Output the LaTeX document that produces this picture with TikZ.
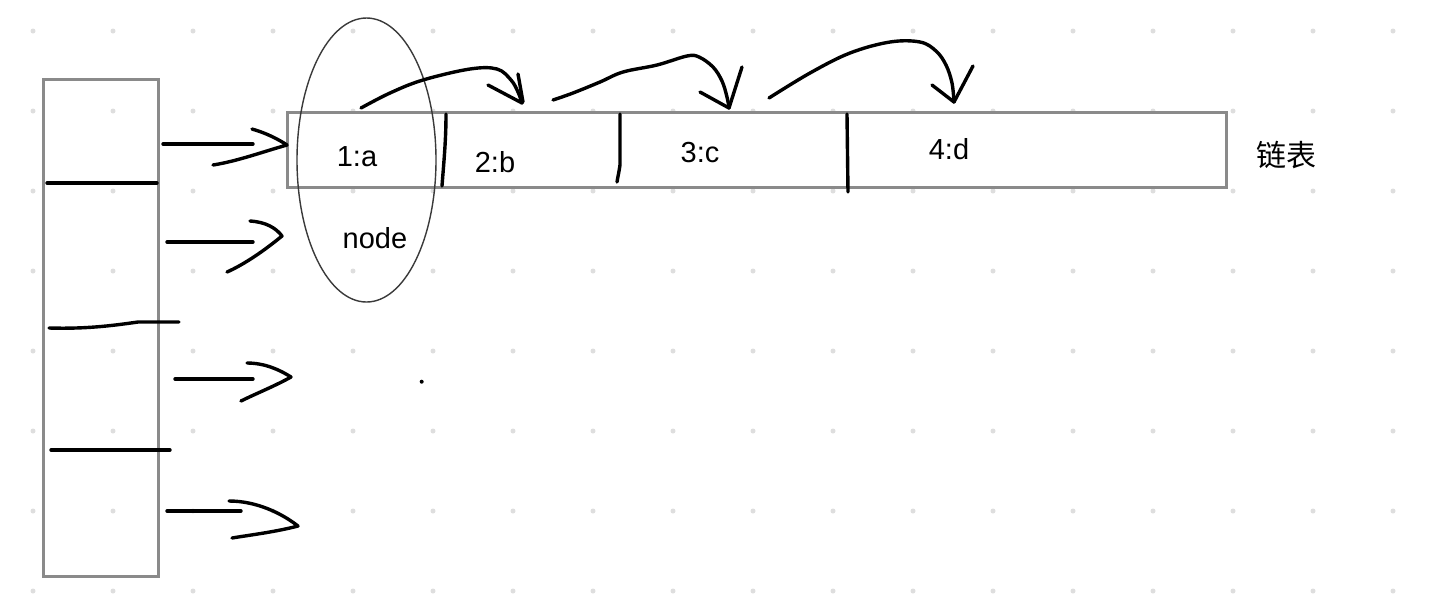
\documentclass[tikz,border=0pt]{standalone}
\usepackage{fontspec}
\setmainfont{Liberation Sans}
\newfontfamily\cjk{Noto Sans CJK SC}
\usetikzlibrary{shapes.geometric}
\definecolor{boxgray}{HTML}{8A8A8A}
\definecolor{dotgray}{HTML}{DEDEDE}
\definecolor{ellgray}{HTML}{3A3A3A}
\tikzset{
  boxline/.style={draw=boxgray, line width=1.5pt},
  pen/.style={draw=black, line width=1.7pt, line cap=round, line join=round},
  lbl/.style={inner sep=0pt, font=\fontsize{14.5}{17}\selectfont},
  cjklbl/.style={inner sep=0pt, font=\cjk\fontsize{15}{18}\selectfont},
  gridpt/.style={fill=dotgray}
}
\begin{document}
\begin{tikzpicture}[x=0.5pt, y=-0.5pt]
\useasboundingbox (0,0) rectangle (1442,602);
\fill[white] (0,0) rectangle (1442,602);
% dot grid
\foreach \i in {0,...,17}{
  \foreach \j in {0,...,7}{
    \fill[gridpt] ({33+80*\i},{31+80*\j}) circle (1.25pt);
  }
}
% hash table column
\coordinate (tabNW) at (43,79);
\coordinate (tabSE) at (158,576);
\draw[boxline] (tabNW) rectangle (tabSE);
\draw[pen] (47,183) -- (157,183);
\draw[pen] (49,328) .. controls (85,329) and (110,326) .. (138,322) -- (179,322);
\draw[pen] (51,450) -- (170,450);
% linked list bar
\coordinate (listNW) at (287,112);
\coordinate (listSE) at (1226,187);
\draw[boxline] (listNW) rectangle (listSE);
\draw[pen] (446,114) .. controls (446,140) and (444,160) .. (442,186);
\draw[pen] (620,114) -- (620,165) .. controls (619,172) and (618,176) .. (617,182);
\draw[pen] (847,114) -- (848,192);
% labels
\node[lbl] (la) at (357,157) {1:a};
\node[lbl] (lb) at (495,162) {2:b};
\node[lbl] (lc) at (700,153) {3:c};
\node[lbl] (ld) at (949,149) {4:d};
\node[lbl] (lnode) at (375,238) {node};
\node[cjklbl] (llist) at (1286,155) {链表};
% ellipse around first node
\node[draw=ellgray, line width=0.7pt, ellipse, inner sep=0pt,
      minimum width=69.5pt, minimum height=142pt] (ell) at (366.5,160) {};
% arrows from table to list
\draw[pen] (163,144) -- (253,144);
\draw[pen] (252,129) .. controls (266,133) and (278,139) .. (287,145)
           .. controls (262,152) and (238,161) .. (213,165);
\draw[pen] (167,242) -- (253,242);
\draw[pen] (250,221) .. controls (266,222) and (276,228) .. (282,236)
           .. controls (265,250) and (245,264) .. (227,272);
\draw[pen] (175,379) -- (253,379);
\draw[pen] (247,363) .. controls (265,363) and (280,370) .. (291,377)
           .. controls (275,386) and (255,394) .. (241,401);
\draw[pen] (167,511) -- (241,511);
\draw[pen] (229,501) .. controls (255,501) and (280,512) .. (298,526)
           .. controls (275,532) and (250,535) .. (232,538);
\fill (421.7,381.7) circle (1pt);
% next pointers
\draw[pen] plot[smooth, tension=0.6] coordinates {(361,108) (390,93) (423,80) (470,69) (497,69) (511,80) (518,92) (522,103)};
\draw[pen] (488,85) -- (522,103);
\draw[pen] (518,74) -- (523,102);
\draw[pen] plot[smooth, tension=0.6] coordinates {(553,100) (573,93) (600,82) (623,72) (657,65) (687,56) (699,57) (713,67) (722,81) (727,97) (729,108)};
\draw[pen] (700,92) -- (729,108);
\draw[pen] (742,67) -- (729,108);
\draw[pen] plot[smooth, tension=0.6] coordinates {(769,98) (810,73) (850,53) (890,42) (920,42) (936,51) (946,65) (952,83) (954,102)};
\draw[pen] (932,85) -- (954,102);
\draw[pen] (973,66) -- (954,102);
\end{tikzpicture}
\end{document}
